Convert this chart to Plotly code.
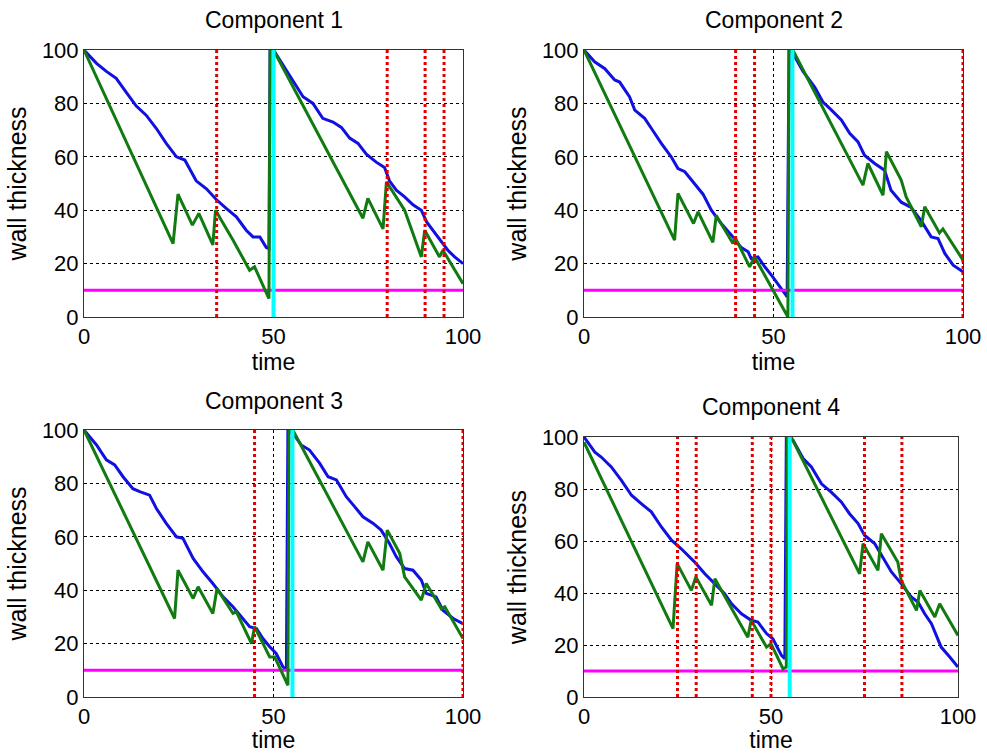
import plotly.graph_objects as go
from plotly.subplots import make_subplots

# ---- data ----
threshold = 10

# Component 1
blue1_t = [0, 3.3, 5.9, 8.5, 11.2, 13.8, 16.4, 19.1, 21.7, 24.4, 26.6, 29.6, 32.3, 34.9, 37.6, 40.2,
           42.8, 44.6, 46.4, 48.1, 48.8, 49.1, 50, 55.1, 57.8, 60.4, 63, 65.7, 67.9, 70.1, 72.3, 74.5,
           77.1, 79.3, 80.6, 82.4, 84.6, 86.8, 89, 90.4, 92.1, 93.8, 96, 97.8, 100]
blue1_v = [100, 95, 92, 89.4, 84, 79, 75.6, 70.6, 65, 60, 58.8, 51, 48, 44, 40.6, 37.5,
           32.5, 30, 30, 26, 25.6, 100, 100, 88.8, 82.5, 80, 74.4, 73, 71, 67, 65, 61,
           58, 56, 51, 47.5, 45, 42, 40, 35.6, 32.5, 29.4, 25, 22.5, 20]
green1_t = [0, 23.5, 24.8, 28.6, 30.3, 34, 34.7, 39.3, 43.7, 45, 48.8, 49.1, 50, 73.6, 74.9, 78.9,
            79.8, 84.6, 89, 89.9, 93.8, 94.7, 100]
green1_v = [100, 27.5, 46, 34.4, 38.8, 27, 40, 28.8, 17.5, 18.8, 6.9, 100, 100, 37, 44.4, 33,
            50.6, 40, 22.5, 32.5, 22.5, 25, 12.5]
inspect1 = [35, 80, 90, 95]
renew1 = 50

# Component 2
blue2_t = [0, 2.8, 5.5, 8.1, 9.4, 12, 13.4, 16, 17.8, 20.4, 23, 24.8, 26.6, 29.2, 31.4, 33.6, 36.2,
           39.3, 41.5, 43.3, 44.1, 45.9, 47.7, 49.5, 51.2, 53, 53.6, 54.1, 55.1, 57.8, 60.9, 63,
           65.3, 67.9, 70.1, 72.3, 74, 76.7, 79.3, 81, 83.7, 86.3, 89, 91.6, 93.4, 95.2, 97.4, 100]
blue2_v = [100, 95.6, 93, 88.8, 88, 82.5, 77.5, 74.4, 70.6, 65, 60, 55.6, 54.4, 50, 46, 40, 35,
           30, 26, 24.4, 21.9, 22.5, 18.8, 15.6, 12.5, 8.8, 7.5, 100, 98.8, 92, 86, 80.6,
           77.5, 73.8, 68.8, 65.6, 60.6, 57.5, 55, 47.5, 43, 41, 36, 30, 29.4, 23.8, 19.4, 16.9]
green2_t = [0, 23.9, 24.8, 28.9, 30.1, 34, 34.9, 39.3, 39.8, 43.7, 45, 53.8, 54.1, 55.1, 73.6,
            74.9, 78.9, 79.8, 83.7, 85, 89, 89.9, 93.8, 94.7, 100]
green2_v = [100, 28.8, 46.3, 35, 39.4, 28, 38, 27.5, 30, 18.8, 22.5, 0, 100, 100, 49.4,
            57.5, 45.6, 61.9, 51.3, 45, 33.8, 41.3, 31.5, 33, 21.3]
inspect2 = [40, 45, 100]
renew2 = 55

# Component 3
blue3_t = [0, 3.3, 5.9, 8.1, 10.3, 12.9, 14.7, 17.3, 19.1, 21.7, 24.4, 26.1, 28.8, 31.4, 34, 36.7,
           39.3, 41.1, 43.7, 45.5, 47.2, 49, 50.7, 52.5, 53.4, 53.8, 55.1, 57.3, 59.5, 62.2, 64.4,
           66.6, 69.2, 71.4, 73.6, 76.3, 78.4, 80.6, 82.4, 84.6, 86.8, 89, 90.3, 92.9, 94.7, 97.4, 100]
blue3_v = [100, 94.4, 88.8, 86.9, 82.5, 78, 76.9, 75.6, 70.6, 65, 60, 59.4, 51.9, 46.9, 42.5, 37.5,
           33.8, 30.6, 26.3, 25.6, 21.9, 18.8, 16.3, 11.3, 10, 100, 98.8, 94.4, 92.5, 87.5, 82.5,
           81.3, 75, 71.3, 67.5, 65, 62.5, 57.5, 52.5, 48.1, 47.5, 43.8, 38.8, 37.5, 32.5, 29.4, 27.5]
green3_t = [0, 23.9, 24.8, 28.8, 30.1, 34, 35.1, 39.3, 40.2, 44.2, 45, 49, 50.3, 53.8, 54.1, 55.1,
            73.6, 74.9, 78.9, 80, 83.3, 84.6, 89, 90.3, 94.3, 95.2, 100]
green3_v = [100, 29.4, 47.5, 36.9, 41.3, 31.3, 40.6, 31.3, 31.9, 20, 26.3, 15, 15, 4.4, 100, 100,
            50.6, 58.1, 47.5, 62.5, 53.8, 45, 36.3, 42.5, 33, 33.8, 21.9]
inspect3 = [45, 100]
renew3 = 55

# Component 4
blue4_t = [0, 2.9, 4.6, 7.3, 10, 12.7, 15.3, 18, 20.7, 23.4, 26, 29.6, 32.3, 35, 37.6, 39.4, 42.1,
           44.7, 46.5, 48.8, 50.5, 52.8, 53.7, 54.1, 55.9, 58.6, 60.8, 63.5, 66.1, 68.8, 71, 73.3,
           75, 77.7, 79.9, 82.2, 84.8, 87.5, 89.3, 91.1, 92.9, 95.5, 97.8, 100]
blue4_v = [100, 94.2, 92.3, 88.5, 83.3, 77.6, 74.4, 71.2, 65.4, 60.3, 57, 51.9, 47.4, 43.6, 39.7,
           35.9, 32, 29.5, 28.8, 24.4, 22.4, 16, 14.7, 100, 98.7, 91.7, 88.5, 82, 78.8, 75, 70.5,
           66.7, 62.2, 59, 53.8, 48.1, 43.6, 38.5, 36.5, 32, 28.2, 19.2, 15.4, 11.5]
green4_t = [0, 23.8, 24.9, 28.7, 29.9, 34.1, 35, 43.8, 44.7, 48.8, 50, 53.2, 54.1, 54.3, 55.4, 73.7,
            74.6, 78.6, 79.5, 83.9, 84.8, 88.9, 89.8, 93.8, 95.1, 100]
green4_v = [98, 26.3, 51.3, 41, 46.2, 35.3, 45.5, 23, 29.5, 19.2, 20.5, 10.9, 11.5, 100, 100, 47.4,
            59, 48.7, 62.8, 51.9, 44.9, 33.3, 41, 30.8, 35.9, 23.7]
inspect4 = [25, 30, 45, 50, 75, 85]
renew4 = 55

components = [
    ("Component 1", blue1_t, blue1_v, green1_t, green1_v, inspect1, renew1),
    ("Component 2", blue2_t, blue2_v, green2_t, green2_v, inspect2, renew2),
    ("Component 3", blue3_t, blue3_v, green3_t, green3_v, inspect3, renew3),
    ("Component 4", blue4_t, blue4_v, green4_t, green4_v, inspect4, renew4),
]

W, H = 987, 753
FONT = "Liberation Sans, Arial, sans-serif"

# plot area boxes in pixels (left, right, top, bottom)
boxes = [(84, 463, 50, 317), (584, 963, 50, 317), (84, 463, 430, 697), (584, 958, 437, 697)]
title_y = [20, 20, 401, 407]

fig = make_subplots(rows=2, cols=2)

for i, (name, bt, bv, gt, gv, insp, renew) in enumerate(components):
    row, col = i // 2 + 1, i % 2 + 1

    fig.add_trace(go.Scatter(x=bt, y=bv, mode="lines", line=dict(color="#1010e0", width=3)),
                  row=row, col=col)
    fig.add_trace(go.Scatter(x=[0, 100], y=[threshold, threshold], mode="lines",
                             line=dict(color="#ff00ff", width=3)), row=row, col=col)
    fig.add_trace(go.Scatter(x=gt, y=gv, mode="lines", line=dict(color="#117a11", width=3)),
                  row=row, col=col)

    # inspection moments (red dotted) and renewal (cyan)
    rx, ry = [], []
    for t in insp:
        rx += [t, t, None]
        ry += [0, 100, None]
    fig.add_trace(go.Scatter(x=rx, y=ry, mode="lines",
                             line=dict(color="#e00000", width=3, dash="dot")), row=row, col=col)
    fig.add_trace(go.Scatter(x=[renew, renew], y=[0, 100], mode="lines",
                             line=dict(color="#00ffff", width=4)), row=row, col=col)

    l, r, t, b = boxes[i]
    xa = "xaxis" if i == 0 else f"xaxis{i + 1}"
    ya = "yaxis" if i == 0 else f"yaxis{i + 1}"
    fig.layout[xa].domain = [l / W, r / W]
    fig.layout[ya].domain = [1 - b / H, 1 - t / H]

    fig.add_annotation(text=name, x=(l + r) / 2 / W, y=1 - title_y[i] / H, xref="paper",
                       yref="paper", showarrow=False, xanchor="center", yanchor="middle",
                       font=dict(size=23, color="black", family=FONT))

fig.update_xaxes(range=[0, 100], tickvals=[0, 50, 100], showgrid=True, gridcolor="black",
                 griddash="dot", gridwidth=1, zeroline=False, showline=True, mirror=True,
                 linecolor="#333", linewidth=1, automargin=False,
                 tickfont=dict(size=22, color="black", family=FONT),
                 title=dict(text="time", standoff=2, font=dict(size=23, color="black", family=FONT)))
fig.update_yaxes(range=[0, 100], tickvals=[0, 20, 40, 60, 80, 100], showgrid=True,
                 gridcolor="black", griddash="dot", gridwidth=1, zeroline=False, showline=True,
                 mirror=True, linecolor="#333", linewidth=1, automargin=False,
                 tickfont=dict(size=22, color="black", family=FONT),
                 title=dict(text="wall thickness", standoff=8,
                            font=dict(size=25, color="black", family=FONT)))

fig.update_layout(
    width=W,
    height=H,
    showlegend=False,
    margin=dict(l=0, r=0, t=0, b=0),
    plot_bgcolor="white",
    paper_bgcolor="white",
)

# page body has a default 8px margin; remove it so the figure fills the window
fig.write_html("out.html", config={"displayModeBar": False},
               post_script="document.body.style.margin='0';")
